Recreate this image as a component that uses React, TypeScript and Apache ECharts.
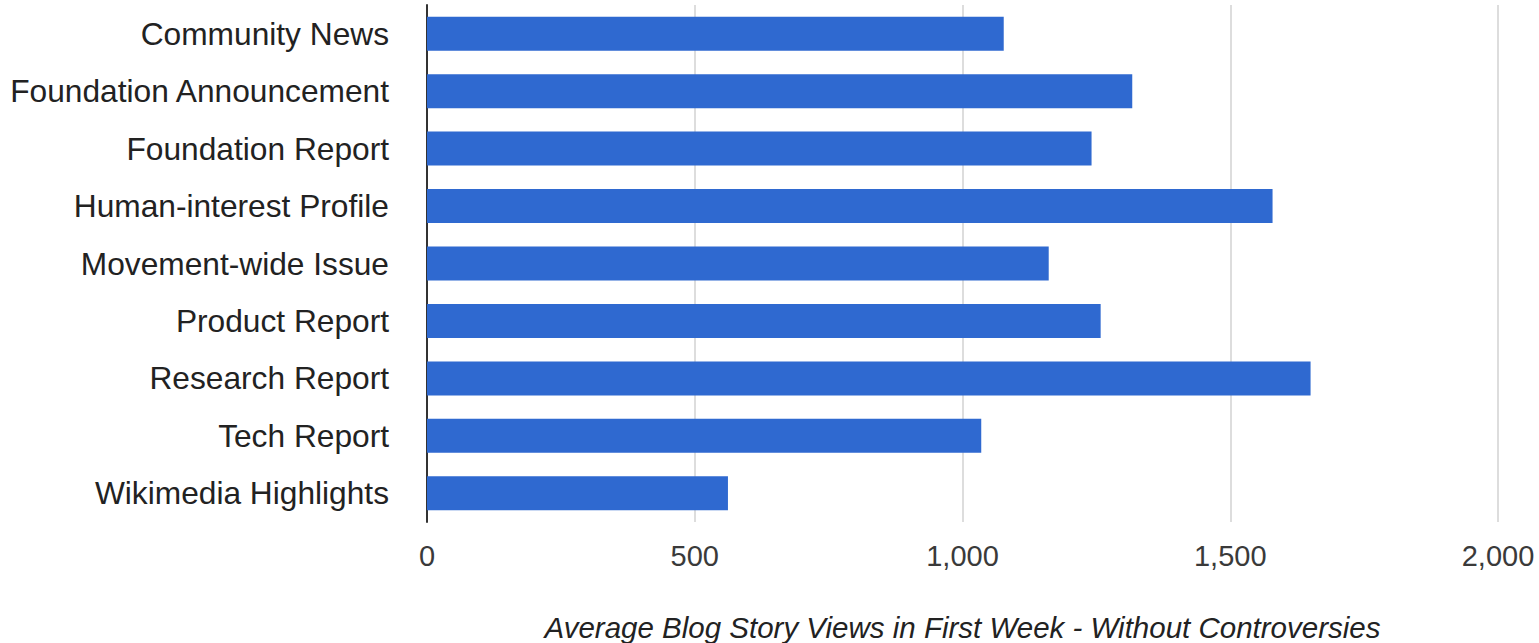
import React, { useEffect, useRef } from "react";
import * as echarts from "echarts";

const categories = [
  "Community News",
  "Foundation Announcement",
  "Foundation Report",
  "Human-interest Profile",
  "Movement-wide Issue",
  "Product Report",
  "Research Report",
  "Tech Report",
  "Wikimedia Highlights",
];
const views = [1077, 1317, 1241, 1579, 1161, 1258, 1650, 1035, 562];
const axisTitle = "Average Blog Story Views in First Week - Without Controversies";
const xMin = 0;
const xMax = 2000;
const xStep = 500;

const FONT = "'Liberation Sans', Arial, sans-serif";

export default function App() {
  const ref = useRef<HTMLDivElement>(null);
  useEffect(() => {
    if (!ref.current) return;
    const chart = echarts.init(ref.current, undefined, { renderer: "svg" });
    chart.setOption({
      animation: false,
      backgroundColor: "#ffffff",
      textStyle: { fontFamily: FONT },
      grid: {
        left: 427,
        right: 41,
        top: 5,
        bottom: 121,
        containLabel: false,
        outerBoundsMode: "none",
      },
      xAxis: {
        type: "value",
        min: xMin,
        max: xMax,
        interval: xStep,
        axisLine: { show: false },
        axisTick: { show: false },
        splitLine: { show: true, lineStyle: { color: "#d2d2d2", width: 1.5 } },
        axisLabel: {
          fontSize: 29,
          color: "#3a3a3a",
          margin: 19,
          fontFamily: FONT,
          formatter: (v: number) => v.toLocaleString("en-US"),
        },
        name: axisTitle,
        nameLocation: "middle",
        nameGap: 90,
        nameTextStyle: {
          fontSize: 29.5,
          lineHeight: 30,
          fontStyle: "italic",
          color: "#222",
          fontFamily: FONT,
        },
      },
      yAxis: {
        type: "category",
        data: categories,
        inverse: true,
        axisLine: { show: true, lineStyle: { color: "#333", width: 2 } },
        axisTick: { show: false },
        splitLine: { show: false },
        axisLabel: {
          fontSize: 31.7,
          color: "#222",
          margin: 38,
          fontFamily: FONT,
        },
      },
      series: [
        {
          type: "bar",
          data: views,
          barWidth: 34,
          itemStyle: { color: "#2f69d0" },
        },
      ],
    });
    return () => chart.dispose();
  }, []);
  return (
    <div
      ref={ref}
      style={{ position: "absolute", left: 0, top: 0, width: 1539, height: 643 }}
    />
  );
}
